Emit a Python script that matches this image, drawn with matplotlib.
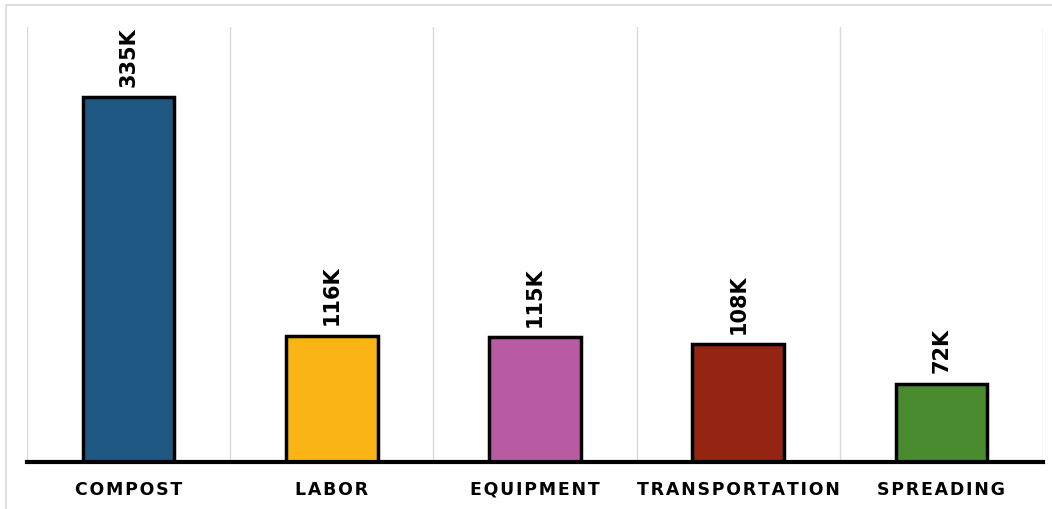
import matplotlib.pyplot as plt
from matplotlib.patches import Rectangle

categories = ["COMPOST", "LABOR", "EQUIPMENT", "TRANSPORTATION", "SPREADING"]
values = [335, 116, 115, 108, 72]
labels = ["335K", "116K", "115K", "108K", "72K"]
colors = ["#1d5782", "#fbb415", "#b95ba3", "#952412", "#4b8b2f"]

W, H = 1052, 510
fig = plt.figure(figsize=(W / 100, H / 100), dpi=100)
ax = fig.add_axes([27 / W, 1 - 463 / H, (1043 - 27) / W, (463 - 28) / H])

# light frame round the chart (runs off the right and bottom edges)
fig.patches.append(Rectangle((6 / W, -0.1), 1.2, 1.1 - 6 / H, transform=fig.transFigure,
                             fill=False, edgecolor="#d9d9d9", linewidth=1.2))

x = range(len(categories))
ax.bar(x, values, width=0.45, color=colors, edgecolor="black", linewidth=2.5, zorder=3)

for i, v in enumerate(values):
    ax.annotate(labels[i], (i, v), xytext=(0, 8), textcoords="offset points",
                rotation=90, ha="center", va="bottom", fontsize=15,
                fontweight="bold", color="black")

for b in [k - 0.5 for k in range(len(categories) + 1)]:
    ax.axvline(b, color="#d9d9d9", linewidth=1, zorder=0)

ax.set_xlim(-0.5, len(categories) - 0.5)
ax.set_ylim(0, 399)
ax.set_yticks([])
ax.set_xticks(list(x))
spaced = ["\u200a".join(c) for c in categories]
ax.set_xticklabels(spaced, fontsize=12.5, fontweight="bold")
ax.tick_params(axis="x", length=0, pad=23)
for lbl in ax.get_xticklabels():
    lbl.set_va("baseline")
for s in ["top", "right", "left"]:
    ax.spines[s].set_visible(False)
ax.spines["bottom"].set_linewidth(3)
ax.spines["bottom"].set_zorder(4)

fig.savefig("out.png", dpi=100)
